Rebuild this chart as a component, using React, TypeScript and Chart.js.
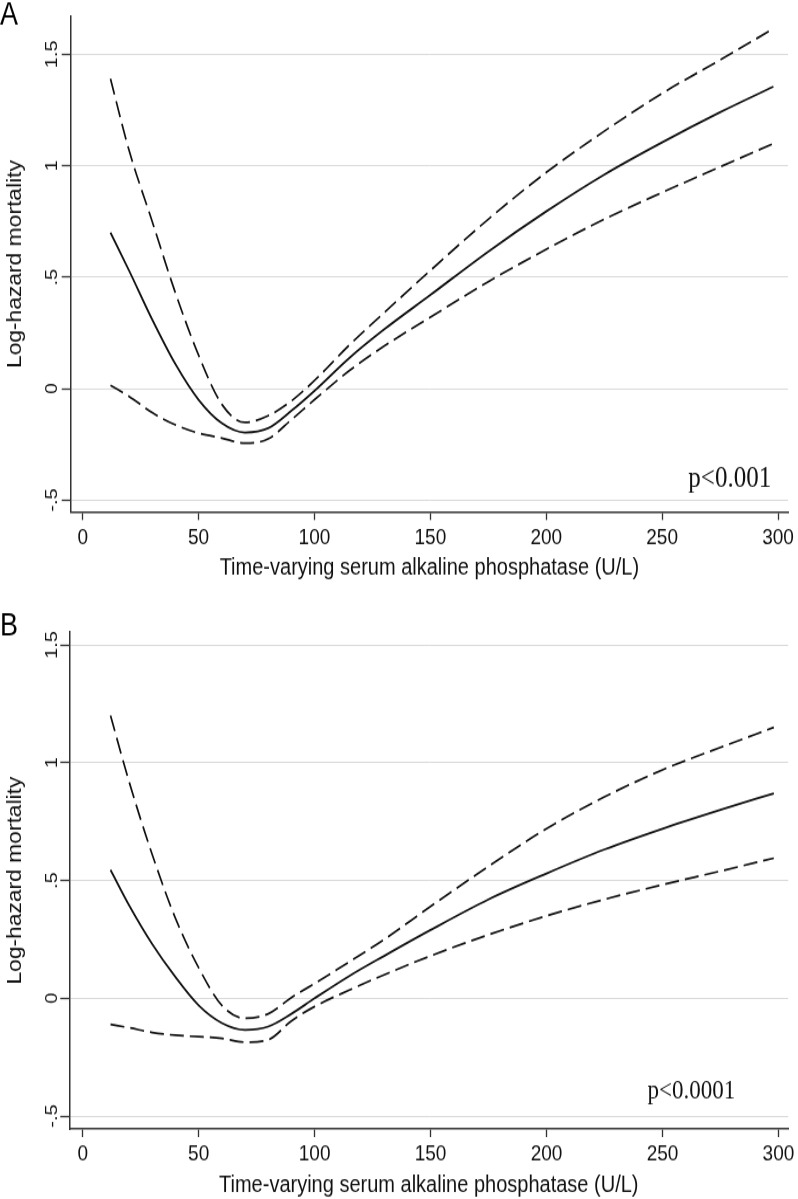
import React, { useEffect, useRef } from 'react';
import { Chart, registerables } from 'chart.js';

Chart.register(...registerables);

// ---------------- data ----------------
const xValues = [12, 20, 30, 40, 50, 60, 70, 80, 90, 100, 115, 130, 150, 175, 200, 225, 250, 275, 298];

const aEstimate = [0.70, 0.53, 0.31, 0.11, -0.05, -0.155, -0.197, -0.178, -0.10, -0.01, 0.137, 0.265, 0.42, 0.615, 0.795, 0.96, 1.105, 1.24, 1.355];
const aUpper = [1.39, 1.07, 0.75, 0.43, 0.15, -0.07, -0.152, -0.122, -0.056, 0.036, 0.195, 0.34, 0.53, 0.76, 0.97, 1.155, 1.325, 1.475, 1.615];
const aLower = [0.015, -0.035, -0.108, -0.163, -0.20, -0.222, -0.245, -0.226, -0.14, -0.05, 0.08, 0.19, 0.32, 0.48, 0.625, 0.76, 0.88, 0.995, 1.10];

const bEstimate = [0.545, 0.395, 0.23, 0.09, -0.03, -0.105, -0.134, -0.12, -0.066, 0.0, 0.095, 0.18, 0.29, 0.42, 0.53, 0.632, 0.72, 0.80, 0.87];
const bUpper = [1.20, 0.92, 0.61, 0.34, 0.13, -0.03, -0.085, -0.066, 0.003, 0.063, 0.155, 0.25, 0.39, 0.56, 0.72, 0.855, 0.97, 1.065, 1.15];
const bLower = [-0.111, -0.125, -0.145, -0.157, -0.163, -0.17, -0.186, -0.176, -0.096, -0.035, 0.035, 0.10, 0.18, 0.27, 0.35, 0.42, 0.482, 0.54, 0.595];

const xTicks = [0, 50, 100, 150, 200, 250, 300];
const xTickLabels = ['0', '50', '100', '150', '200', '250', '300'];
const yTicks = [-0.5, 0, 0.5, 1, 1.5];
const yTickLabels = ['-.5', '0', '.5', '1', '1.5'];

const xTitle = 'Time-varying serum alkaline phosphatase (U/L)';
const yTitle = 'Log-hazard mortality';
const panelLetters = ['A', 'B'];
const pValueTexts = ['p<0.001', 'p<0.0001'];

// ---------------- layout ----------------
const K = 1.17; // vertical stretch of the original picture
const FONT = "'Liberation Sans', Arial, Helvetica, sans-serif";
const SERIF = "'Liberation Serif', 'Times New Roman', serif";
const INK = '#111111';
const AXIS = '#333333';

type Layout = {
  top: number; height: number;
  plotTop: number; plotBottom: number; axisX: number; rightEnd: number;
  xMin: number; xMax: number; yMin: number; yMax: number;
  tickCenter: number; titleCenter: number; letterBaseline: number;
  pX: number; pY: number; pFont: number; yTickPad: number;
};

const layouts: Layout[] = [
  {
    top: 0, height: 598, plotTop: 16, plotBottom: 512, axisX: 70.7, rightEnd: 790,
    xMin: -5.16, xMax: 304.3, yMin: -0.554, yMax: 1.672,
    tickCenter: 538, titleCenter: 568, letterBaseline: 25,
    pX: 261.3, pY: -0.44, pFont: 25, yTickPad: -2.5,
  },
  {
    top: 598, height: 601, plotTop: 34, plotBottom: 531, axisX: 69.3, rightEnd: 789,
    xMin: -5.77, xMax: 304.2, yMin: -0.555, yMax: 1.555,
    tickCenter: 556.5, titleCenter: 587, letterBaseline: 37.5,
    pX: 243.5, pY: -0.425, pFont: 23, yTickPad: -3.5,
  },
];

function Panel({ idx, est, up, lo }: { idx: number; est: number[]; up: number[]; lo: number[] }) {
  const ref = useRef<HTMLCanvasElement | null>(null);
  const L = layouts[idx];
  const intH = Math.round(L.height / K);
  const k = L.height / intH;

  useEffect(() => {
    if (!ref.current) return;
    const xTickFont = 19;
    const xTitleFont = 20;
    const yTickFont = 17;
    const yTitleFont = 19.5;
    const lh = (s: number) => s * 1.2;
    const xAxisH = (L.height - L.plotBottom) / k;
    const xTickLen = 8 / k;
    const xTickPad = (L.tickCenter - L.plotBottom) / k - xTickLen - lh(xTickFont) / 2;
    const xTitlePadBottom = intH - L.titleCenter / k - lh(xTitleFont) / 2;
    const yTitlePadTop = 16 - lh(yTitleFont) / 2;

    const mk = (arr: number[]) => xValues.map((x, i) => ({ x, y: arr[i] }));

    const textPlugin = {
      id: 'panelText',
      afterDraw(chart: any) {
        const ctx = chart.ctx;
        ctx.save();
        ctx.fillStyle = '#000';
        ctx.textBaseline = 'alphabetic';
        ctx.textAlign = 'left';
        ctx.font = `27px ${FONT}`;
        ctx.fillText(panelLetters[idx], 0, L.letterBaseline / k);
        ctx.font = `${L.pFont}px ${SERIF}`;
        ctx.fillStyle = '#111';
        const px = chart.scales.x.getPixelForValue(L.pX);
        const py = chart.scales.y.getPixelForValue(L.pY);
        ctx.fillText(pValueTexts[idx], px, py);
        ctx.restore();
      },
    };

    const lineBase = {
      pointRadius: 0,
      pointHoverRadius: 0,
      fill: false,
      cubicInterpolationMode: 'monotone',
      borderColor: '#111111',
    };

    const chart = new Chart(ref.current, {
      type: 'line',
      data: {
        datasets: [
          { ...lineBase, label: 'Upper 95% CI', data: mk(up), borderWidth: 1.7, borderDash: [14, 6] },
          { ...lineBase, label: 'Log-hazard', data: mk(est), borderWidth: 1.8 },
          { ...lineBase, label: 'Lower 95% CI', data: mk(lo), borderWidth: 1.7, borderDash: [14, 6] },
        ],
      },
      options: {
        responsive: false,
        animation: false,
        devicePixelRatio: 1,
        layout: { padding: { top: L.plotTop / k, right: 798 - L.rightEnd, bottom: 0, left: 0 } },
        plugins: { legend: { display: false }, tooltip: { enabled: false } },
        events: [],
        scales: {
          x: {
            type: 'linear',
            min: L.xMin,
            max: L.xMax,
            afterBuildTicks: (s: any) => { s.ticks = xTicks.map((v) => ({ value: v })); },
            afterFit: (s: any) => { s.height = xAxisH; },
            ticks: {
              callback: (_v: any, i: number) => xTickLabels[i],
              font: { size: xTickFont, family: FONT },
              color: INK,
              padding: xTickPad,
              maxRotation: 0,
              minRotation: 0,
              autoSkip: false,
            },
            grid: { drawOnChartArea: false, drawTicks: true, tickLength: xTickLen, tickColor: AXIS, tickWidth: 1.3 },
            border: { display: true, color: AXIS, width: 1.5 },
            title: {
              display: true, text: xTitle, color: INK,
              font: { size: xTitleFont, family: FONT },
              padding: { top: 0, bottom: xTitlePadBottom },
            },
          },
          y: {
            type: 'linear',
            min: L.yMin,
            max: L.yMax,
            afterBuildTicks: (s: any) => { s.ticks = yTicks.map((v) => ({ value: v })); },
            afterFit: (s: any) => { s.width = L.axisX; },
            ticks: {
              callback: (_v: any, i: number) => yTickLabels[i],
              font: { size: yTickFont, family: FONT },
              color: INK,
              padding: L.yTickPad,
              minRotation: 90,
              maxRotation: 90,
              crossAlign: 'center',
              autoSkip: false,
            },
            grid: { color: '#d9d9d9', lineWidth: 1, drawTicks: true, tickLength: 9, tickColor: AXIS, tickWidth: 1.3 },
            border: { display: true, color: AXIS, width: 1.5 },
            title: {
              display: true, text: yTitle, color: INK,
              font: { size: yTitleFont, family: FONT },
              padding: { top: yTitlePadTop, bottom: 0 },
            },
          },
        },
      } as any,
      plugins: [textPlugin],
    });
    return () => chart.destroy();
  }, []);

  return (
    <canvas
      ref={ref}
      width={798}
      height={intH}
      style={{ position: 'absolute', left: 0, top: L.top, width: 798, height: L.height }}
    />
  );
}

export default function App() {
  return (
    <div style={{ position: 'absolute', left: 0, top: 0, width: 798, height: 1199, background: '#fff', overflow: 'hidden' }}>
      <Panel idx={0} est={aEstimate} up={aUpper} lo={aLower} />
      <Panel idx={1} est={bEstimate} up={bUpper} lo={bLower} />
    </div>
  );
}
